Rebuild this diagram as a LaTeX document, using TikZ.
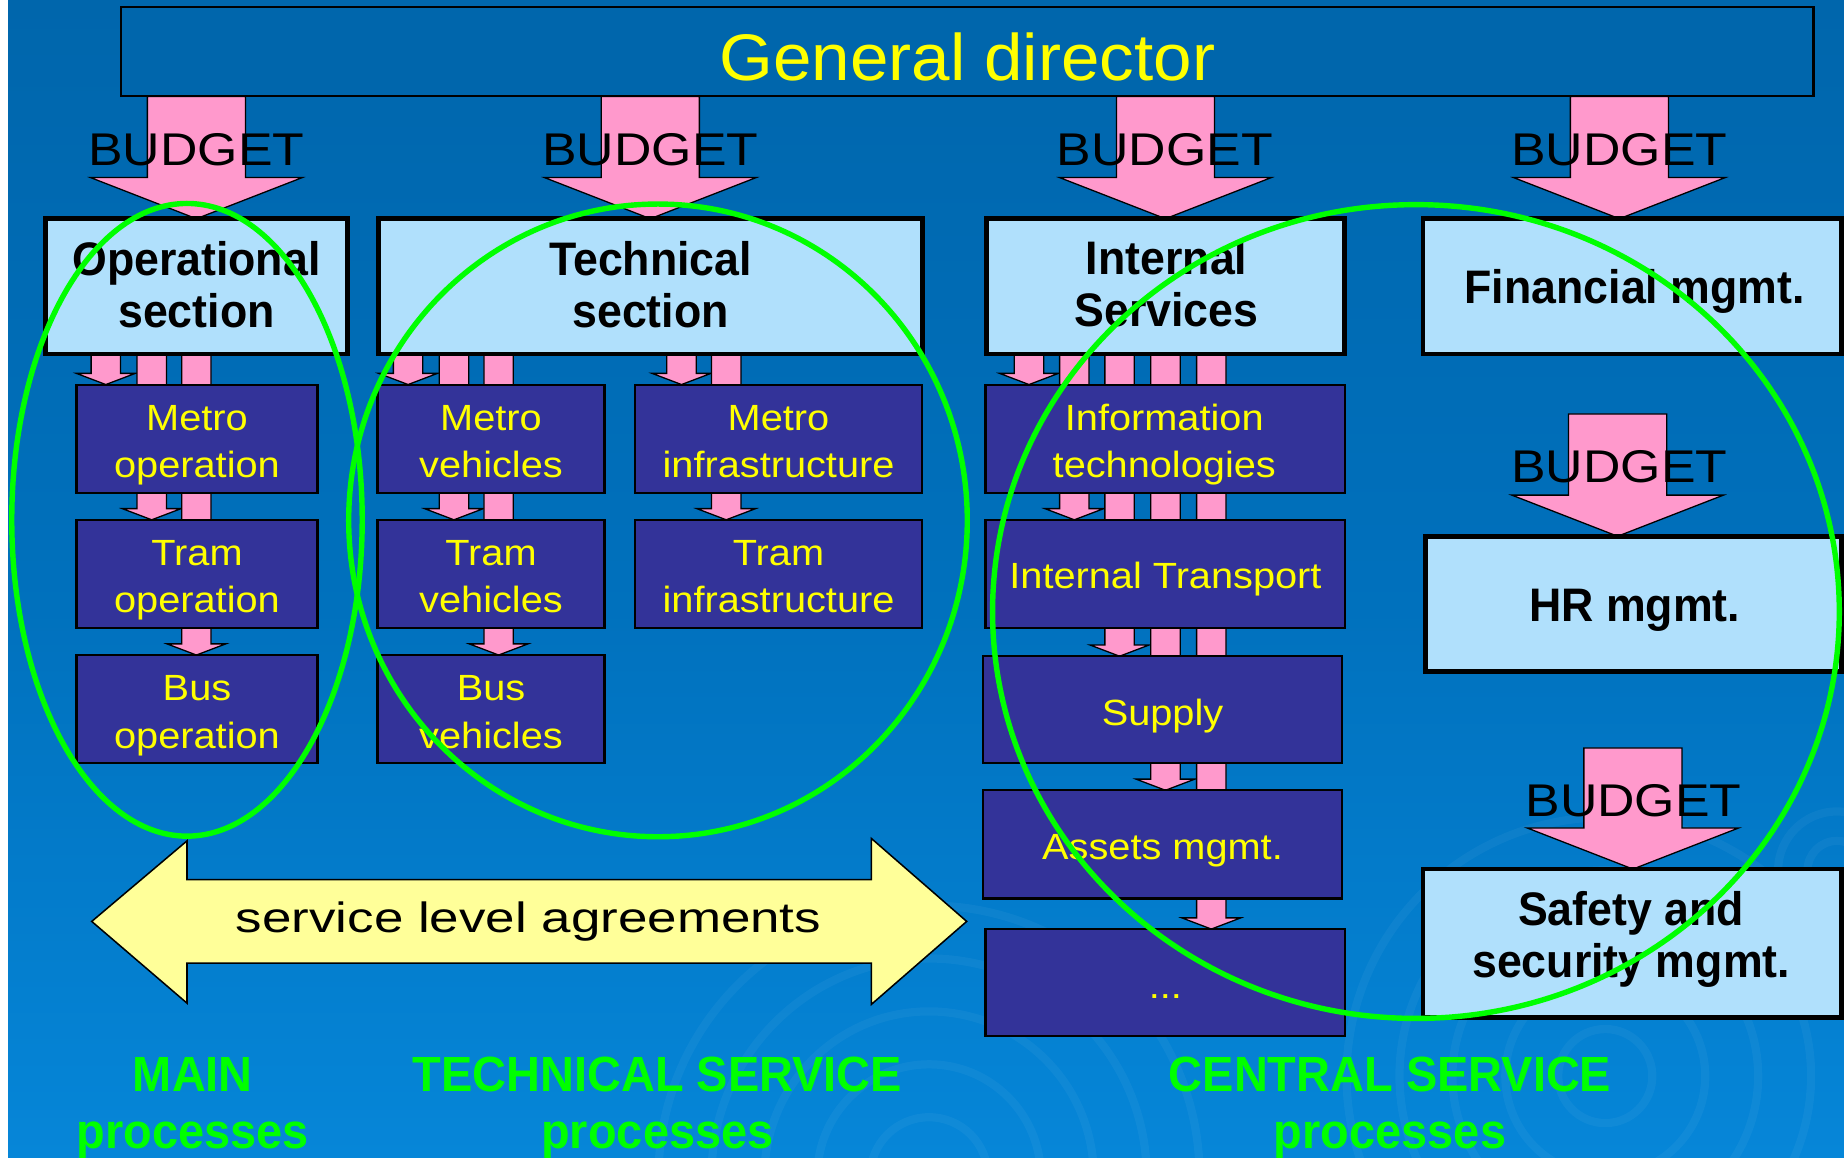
\documentclass[tikz,border=0pt]{standalone}
\usepackage{fontspec}
\setmainfont{Liberation Sans}
\newfontfamily\fgd{Liberation Sans}[FakeStretch=1.05]
\newfontfamily\fbud{Liberation Sans}[FakeStretch=1.13]
\newfontfamily\fyel{Liberation Sans}[FakeStretch=1.09]
\newfontfamily\fsla{Liberation Sans}[FakeStretch=1.25]
\newfontfamily\fbold{Liberation Sans}[FakeStretch=0.95]
\usetikzlibrary{calc}
\definecolor{bgtop}{HTML}{0066AC}
\definecolor{bgmid}{HTML}{0070BC}
\definecolor{bgbot}{HTML}{0686D8}
\definecolor{lightb}{HTML}{B0E0FC}
\definecolor{darkb}{HTML}{333399}
\definecolor{pinkc}{HTML}{FF99CC}
\definecolor{ylw}{HTML}{FFFF00}
\definecolor{slay}{HTML}{FFFF99}
\definecolor{ringg}{HTML}{00FF00}
\pgfdeclarelayer{bg}\pgfdeclarelayer{arr}\pgfdeclarelayer{fg}
\pgfsetlayers{bg,arr,main,fg}
\tikzset{
  lbox/.style={draw=black, line width=4pt, fill=lightb, inner sep=0pt, outer sep=0pt},
  dbox/.style={draw=black, line width=1.8pt, fill=darkb, inner sep=0pt, outer sep=0pt},
  gdbox/.style={draw=black, line width=1.8pt, fill=bgtop, inner sep=0pt, outer sep=0pt},
  pinkarr/.style={fill=pinkc, draw=black, line width=1.1pt, line join=miter},
  ring/.style={draw=ringg, line width=4.6pt},
  gdtext/.style={text=ylw, font={\fgd\fontsize{56}{60}\selectfont}, align=center, inner sep=0pt},
  ytext/.style={text=ylw, font={\fyel\fontsize{31}{40.3}\selectfont}, align=center, inner sep=0pt},
  btext/.style={text=black, font={\fbold\bfseries\fontsize{40}{44}\selectfont}, align=center, inner sep=0pt},
  budtext/.style={text=black, font={\fbud\fontsize{39}{44}\selectfont}, inner sep=0pt},
  slatext/.style={text=black, font={\fsla\fontsize{36}{40}\selectfont}, inner sep=0pt},
  gtext/.style={text=ringg, font={\fbold\bfseries\fontsize{42}{48.7}\selectfont}, align=center, inner sep=0pt},
  swirl/.style={draw=white, opacity=0.045, line width=7pt}
}
\newcommand\bx[6]{\node[#2, minimum width={(#5-#3)*1pt}, minimum height={(#6-#4)*1pt}] (#1) at ({(#3+#5)/2},{(#4+#6)/2}) {};}
\newcommand\tx[5]{\node[#2, anchor=north] (#1) at ($(#3.north)+(#4)$) {\rule{0pt}{1em}#5};}
\newcommand\smallarr[3]{\filldraw[pinkarr] let \p1=(#2.south), \p2=(#3.north), \p3=(#1,0) in
  ({\x3-12.5pt},{\y1}) -- ({\x3-12.5pt},{\y2+9.5pt}) -- ({\x3-25pt},{\y2+9.5pt}) -- ({\x3},{\y2})
  -- ({\x3+25pt},{\y2+9.5pt}) -- ({\x3+12.5pt},{\y2+9.5pt}) -- ({\x3+12.5pt},{\y1}) -- cycle;}
\newcommand\bigarr[3]{\filldraw[pinkarr] let \p1=#2, \p2=#3, \p3=(#1,0) in
  ({\x3-41.7pt},{\y1}) -- ({\x3-41.7pt},{\y2+35pt}) -- ({\x3-90pt},{\y2+35pt}) -- ({\x3},{\y2})
  -- ({\x3+90pt},{\y2+35pt}) -- ({\x3+41.7pt},{\y2+35pt}) -- ({\x3+41.7pt},{\y1}) -- cycle;}
\begin{document}
\begin{tikzpicture}[x=1pt,y=-1pt]
\useasboundingbox (0,0) rectangle (1568,984);
\begin{pgfonlayer}{bg}
  \fill[white] (0,0) rectangle (7,984);
  \shade[top color=bgtop, bottom color=bgbot, middle color=bgmid] (7,0) rectangle (1568,984);
  \begin{scope}
    \clip (7,0) rectangle (1568,984);
    \foreach \r in {50,95,140,185,230} \draw[swirl] (790,1000) circle (\r);
    \foreach \r in {40,85,130,175,220} \draw[swirl] (1365,915) circle (\r);
    \foreach \r in {25,50} \draw[swirl] (1562,740) circle (\r);
  \end{scope}
\end{pgfonlayer}

% boxes
\bx{gd}{gdbox}{103}{6}{1542}{82}
\bx{ops}{lbox}{38.5}{186}{295.5}{301}
\bx{tech}{lbox}{322}{186}{784.5}{301}
\bx{ints}{lbox}{839}{186}{1143}{301}
\bx{fin}{lbox}{1210}{186}{1566}{301}
\bx{hr}{lbox}{1212}{456}{1566}{571}
\bx{saf}{lbox}{1210}{739}{1566}{865}
\bx{mo}{dbox}{65}{327}{270}{419}
\bx{to}{dbox}{65}{442}{270}{534}
\bx{bo}{dbox}{65}{557}{270}{649}
\bx{mv}{dbox}{321}{327}{514}{419}
\bx{tv}{dbox}{321}{442}{514}{534}
\bx{bv}{dbox}{321}{557}{514}{649}
\bx{mi}{dbox}{540}{327}{784}{419}
\bx{ti}{dbox}{540}{442}{784}{534}
\bx{it}{dbox}{838}{327}{1144}{419}
\bx{itr}{dbox}{838}{442}{1144}{534}
\bx{sup}{dbox}{836}{558}{1141}{649}
\bx{ass}{dbox}{836}{672}{1141}{764}
\bx{etc}{dbox}{838}{790}{1144}{881}
\coordinate (hrstart) at (1375.5,352);
\coordinate (safstart) at (1388.5,636);

% texts
\tx{tgd}{gdtext}{gd}{0,6}{General director}
\tx{tops}{btext}{ops}{0,8}{Operational\\section}
\tx{ttech}{btext}{tech}{0,8}{Technical\\section}
\tx{tints}{btext}{ints}{1,7.6}{Internal\\Services}
\tx{tfin}{btext}{fin}{2,32}{Financial mgmt.}
\tx{thr}{btext}{hr}{1,32}{HR mgmt.}
\tx{tsaf}{btext}{saf}{-1,7.6}{Safety and\\security mgmt.}
\tx{tmo}{ytext}{mo}{0,7.6}{Metro\\operation}
\tx{tto}{ytext}{to}{0,7.6}{Tram\\operation}
\tx{tbo}{ytext}{bo}{0,7.6}{Bus\\operation}
\tx{tmv}{ytext}{mv}{0,7.6}{Metro\\vehicles}
\tx{ttv}{ytext}{tv}{0,7.6}{Tram\\vehicles}
\tx{tbv}{ytext}{bv}{0,7.6}{Bus\\vehicles}
\tx{tmi}{ytext}{mi}{0,7.6}{Metro\\infrastructure}
\tx{tti}{ytext}{ti}{0,7.6}{Tram\\infrastructure}
\tx{tit}{ytext}{it}{-1,7.6}{Information\\technologies}
\tx{titr}{ytext}{itr}{0,27.5}{Internal Transport}
\tx{tsup}{ytext}{sup}{0,27.5}{Supply}
\tx{tass}{ytext}{ass}{0,27.5}{Assets mgmt.}
\tx{tetc}{ytext}{etc}{0,27.5}{...}

\node[budtext, anchor=base] (b1) at (167,141) {BUDGET};
\node[budtext, anchor=base] (b2) at (553,141) {BUDGET};
\node[budtext, anchor=base] (b3) at (990.5,141) {BUDGET};
\node[budtext, anchor=base] (b4) at (1377,141) {BUDGET};
\node[budtext, anchor=base] (b5) at (1377,410) {BUDGET};
\node[budtext, anchor=base] (b6) at (1389,694) {BUDGET};

\node[slatext, anchor=base] (sla) at (449.5,793) {service level agreements};

\node[gtext, anchor=north] (lmain) at (164,885.8) {\rule{0pt}{1em}MAIN\\processes};
\node[gtext, anchor=north] (ltech) at (559,885.8) {\rule{0pt}{1em}TECHNICAL SERVICE\\processes};
\node[gtext, anchor=north] (lcent) at (1182,885.8) {\rule{0pt}{1em}CENTRAL SERVICE\\processes};

\begin{pgfonlayer}{arr}
  \bigarr{167}{(gd.south)}{(ops.north)}
  \bigarr{553}{(gd.south)}{(tech.north)}
  \bigarr{991}{(gd.south)}{(ints.north)}
  \bigarr{1377}{(gd.south)}{(fin.north)}
  \bigarr{1375.5}{(hrstart)}{(hr.north)}
  \bigarr{1388.5}{(safstart)}{(saf.north)}
  \smallarr{90}{ops}{mo}
  \smallarr{129}{ops}{to}
  \smallarr{167}{ops}{bo}
  \smallarr{347}{tech}{mv}
  \smallarr{386}{tech}{tv}
  \smallarr{424}{tech}{bv}
  \smallarr{579.5}{tech}{mi}
  \smallarr{617.5}{tech}{ti}
  \smallarr{875}{ints}{it}
  \smallarr{913.5}{ints}{itr}
  \smallarr{952}{ints}{sup}
  \smallarr{991}{ints}{ass}
  \smallarr{1030}{ints}{etc}
  \filldraw[fill=slay, draw=black, line width=1.3pt, line join=miter]
    (78,783.5) -- (159,715) -- (159,748) -- (741,748) -- (741,713) -- (822,783.5)
    -- (741,854) -- (741,819) -- (159,819) -- (159,853) -- cycle;
\end{pgfonlayer}

\begin{pgfonlayer}{fg}
  \draw[ring] (159,442) ellipse [x radius=149, y radius=269];
  \draw[ring] (559.5,442.5) ellipse [x radius=263, y radius=269];
  \draw[ring] (1204,520) ellipse [x radius=360, y radius=346];
\end{pgfonlayer}
\end{tikzpicture}
\end{document}
